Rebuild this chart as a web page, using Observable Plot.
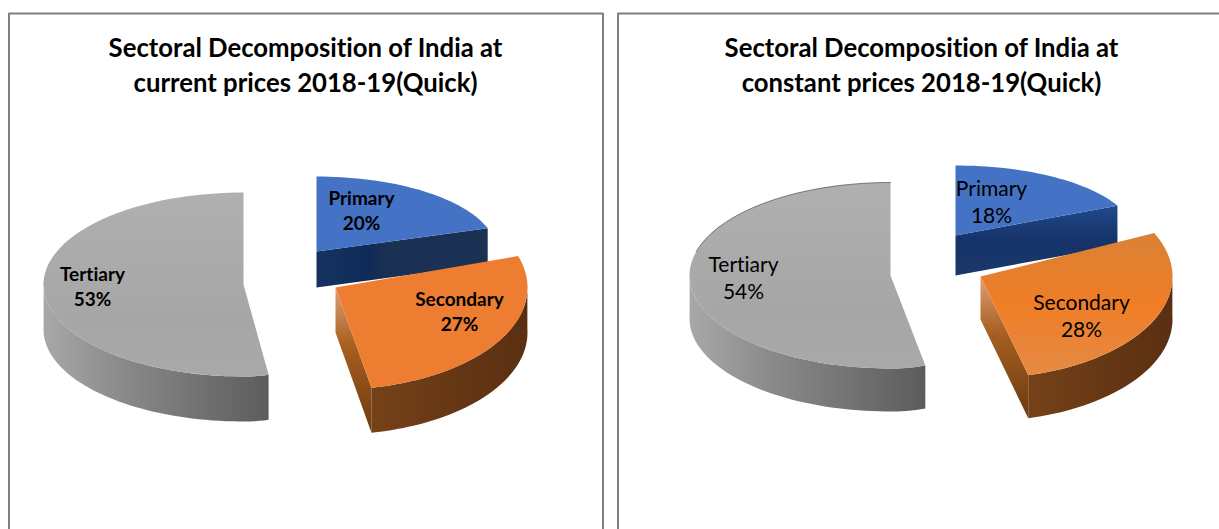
<!DOCTYPE html>
<html><head><meta charset="utf-8">
<script src="https://cdn.jsdelivr.net/npm/d3@7"></script>
<script src="https://cdn.jsdelivr.net/npm/@observablehq/plot@0.6"></script>
<style>html,body{margin:0;padding:0;background:#fff;overflow:hidden}svg{display:block}svg text{font-variant-ligatures:none}</style>
</head><body><div id="chart"></div>
<script>
const categories = ["Primary", "Secondary", "Tertiary"];
const currentShares = [20, 27, 53];
const constantShares = [18, 28, 54];
const currentTitle = "Sectoral Decomposition of India at\ncurrent prices 2018-19(Quick)";
const constantTitle = "Sectoral Decomposition of India at\nconstant prices 2018-19(Quick)";

// Layout of each exploded slice on the page (apex, radii, extrusion depth, label place)
const currentLayout = {
  titleX: 305, titleY: 66, labelFont: 19, labelWeight: "bold", labelLine: 25,
  slices: [
    {ax: 316, ay: 251, rx: 180, ry: 75, d: 36, lx: 361, ly: 209},
    {ax: 335, ay: 287, rx: 192, ry: 102, d: 45, lx: 459, ly: 310},
    {ax: 243, ay: 284, rx: 200, rxE: 134, ry: 92, d: 45, lx: 92, ly: 285}
  ]
};
const constantLayout = {
  titleX: 921, titleY: 66, labelFont: 21, labelWeight: "normal", labelLine: 27,
  slices: [
    {ax: 955, ay: 235, rx: 179, ry: 70, d: 40, lx: 991, ly: 200},
    {ax: 980, ay: 276, rx: 192, ry: 102, d: 43, lx: 1081, ly: 314},
    {ax: 890, ay: 275, rx: 201, rxE: 140, ry: 93, d: 43, lx: 743, ly: 276}
  ]
};

const gradients = [
  ["gTerW", "x", [["0%", "#a8a8a8"], ["35%", "#8a8a8a"], ["100%", "#5c5c5c"]]],
  ["gPriW", "x", [["0%", "#16335f"], ["30%", "#0f2a58"], ["40%", "#1b3153"], ["100%", "#1b3153"]]],
  ["gPriW2", "y", [["0%", "#1f4a8a"], ["50%", "#16336a"], ["100%", "#1a3868"]]],
  ["gSecW", "x", [["0%", "#754118"], ["100%", "#5a2f12"]]],
  ["gSecI", "y", [["0%", "#dca078"], ["40%", "#a85f20"], ["100%", "#6a3a10"]]],
  ["gTerT", "y", [["0%", "#b0b0b0"], ["70%", "#a6a6a6"], ["100%", "#a9a9a9"]]],
  ["gSec2", "y", [["0%", "#d98236"], ["50%", "#f07d26"], ["100%", "#e58b45"]]]
];
function defsMark() {
  const ns = "http://www.w3.org/2000/svg";
  const defs = document.createElementNS(ns, "defs");
  for (const [id, dir, stops] of gradients) {
    const g = document.createElementNS(ns, "linearGradient");
    g.setAttribute("id", id);
    g.setAttribute("x1", "0"); g.setAttribute("y1", "0");
    g.setAttribute("x2", dir === "x" ? "1" : "0"); g.setAttribute("y2", dir === "y" ? "1" : "0");
    for (const [o, c] of stops) {
      const s = document.createElementNS(ns, "stop");
      s.setAttribute("offset", o); s.setAttribute("stop-color", c);
      g.appendChild(s);
    }
    defs.appendChild(g);
  }
  return defs;
}

const rad = Math.PI / 180;
function pt(s, deg, dy = 0) {
  const a = deg * rad, sn = Math.sin(a);
  const rx = sn > 0 && s.rxE ? s.rxE : s.rx;
  return {x: s.ax + rx * sn, y: s.ay - s.ry * Math.cos(a) + dy};
}
function arc(s, a0, a1, dy = 0) {
  const n = Math.max(2, Math.ceil(Math.abs(a1 - a0) / 2));
  return d3.range(n + 1).map(i => pt(s, a0 + (a1 - a0) * i / n, dy));
}
function poly(points, fill) {
  return Plot.line(points, {x: "x", y: "y", fill, stroke: "none", curve: "linear"});
}

function chartMarks(shares, layout, fills) {
  let acc = 0;
  const ang = shares.map(v => { const a = [acc * 3.6, (acc + v) * 3.6]; acc += v; return a; });
  const [P, S, T] = layout.slices;
  const [pa, sa, ta] = ang;
  const apex = s => ({x: s.ax, y: s.ay});
  const marks = [];
  // tertiary
  const tFrontEnd = 272;
  marks.push(poly([...arc(T, ta[0], tFrontEnd), ...arc(T, tFrontEnd, ta[0], T.d)], "url(#gTerW)"));
  marks.push(poly([apex(T), ...arc(T, ta[0], ta[1])], "url(#gTerT)"));
  if (fills.rim) marks.push(Plot.line(arc(T, 285, 360), {x: "x", y: "y", stroke: "#4d4d4d", strokeWidth: 1, strokeOpacity: 0.7}));
  // primary
  const pEnd = pt(P, pa[1]);
  marks.push(poly([apex(P), pEnd, {x: pEnd.x, y: pEnd.y + P.d}, {x: P.ax, y: P.ay + P.d}], fills.priWall));
  marks.push(poly([apex(P), ...arc(P, pa[0], pa[1])], "#4472c4"));
  // secondary
  const sEnd = pt(S, sa[1]);
  marks.push(poly([apex(S), sEnd, {x: sEnd.x, y: sEnd.y + S.d}, {x: S.ax, y: S.ay + S.d}], "url(#gSecI)"));
  marks.push(poly([...arc(S, 88, sa[1]), ...arc(S, sa[1], 88, S.d)], "url(#gSecW)"));
  marks.push(poly([apex(S), ...arc(S, sa[0], sa[1])], fills.secTop));
  // labels
  const labels = categories.map((c, i) => ({text: `${c}\n${shares[i]}%`, x: layout.slices[i].lx, y: layout.slices[i].ly}));
  marks.push(Plot.text(labels, {x: "x", y: "y", text: "text", fontSize: layout.labelFont, fontWeight: layout.labelWeight,
    fontFamily: "Lato", fill: "#000", lineHeight: layout.labelLine / layout.labelFont}));
  return marks;
}

// Frames are open at the bottom of the photographed page
const frameLeft = [{x: 8.5, y: 529}, {x: 8.5, y: 13}, {x: 602.5, y: 13}, {x: 602.5, y: 529}];
const frameRight = [{x: 617.5, y: 529}, {x: 617.5, y: 13}, {x: 1219, y: 13}];

const plot = Plot.plot({
  width: 1219, height: 529, margin: 0,
  x: {domain: [0, 1219], range: [0, 1219], axis: null},
  y: {domain: [0, 529], range: [0, 529], axis: null},
  style: {background: "#fff"},
  marks: [
    defsMark,
    Plot.line(frameLeft, {x: "x", y: "y", stroke: "#7f7f7f", strokeWidth: 2}),
    Plot.line(frameRight, {x: "x", y: "y", stroke: "#7f7f7f", strokeWidth: 2}),
    ...chartMarks(currentShares, currentLayout, {priWall: "url(#gPriW)", secTop: "#ed7d31"}),
    ...chartMarks(constantShares, constantLayout, {priWall: "url(#gPriW2)", secTop: "url(#gSec2)", rim: true}),
    Plot.text([currentTitle, constantTitle], {
      x: (d, i) => [currentLayout.titleX, constantLayout.titleX][i],
      y: (d, i) => [currentLayout.titleY, constantLayout.titleY][i] - 3,
      text: d => d, fontSize: 25.7, fontWeight: "bold", fontFamily: "Lato", fill: "#000", lineHeight: 35 / 25.7
    })
  ]
});
document.getElementById("chart").appendChild(plot);
</script></body></html>
